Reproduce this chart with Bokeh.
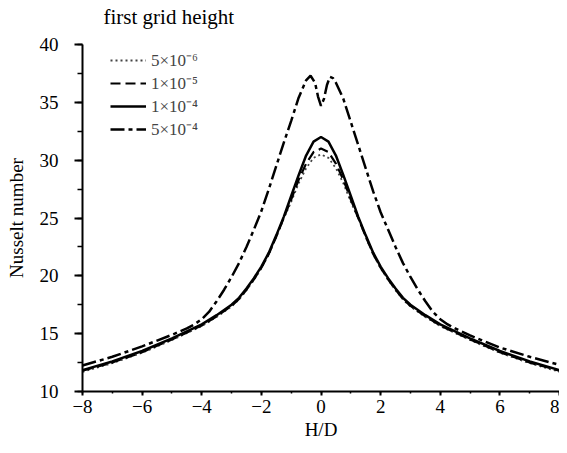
from bokeh.plotting import figure
from bokeh.models import Legend, LegendItem, Range1d, Title
from bokeh.embed import file_html
from bokeh.resources import INLINE

# H/D positions shared by the three near-identical grids
x_common = [-8, -7, -6, -5, -4, -3.5, -3, -2.75, -2.5, -2.25, -2, -1.75, -1.5, -1.25, -1,
            -0.75, -0.5, -0.25, 0, 0.25, 0.5, 0.75, 1, 1.25, 1.5, 1.75, 2, 2.25, 2.5,
            2.75, 3, 3.5, 4, 5, 6, 7, 8]

nu_5e6 = [11.7, 12.45, 13.35, 14.45, 15.65, 16.45, 17.35, 17.95, 18.75, 19.65, 20.65, 21.85, 23.35, 24.95, 26.4,
          28.0, 29.3, 30.2, 30.5, 30.2, 29.3, 28.0, 26.4, 24.95, 23.35, 21.85, 20.65, 19.65, 18.75,
          17.95, 17.35, 16.45, 15.65, 14.45, 13.35, 12.45, 11.7]
nu_1e5 = [11.8, 12.5, 13.4, 14.5, 15.7, 16.5, 17.4, 18.0, 18.8, 19.7, 20.7, 21.9, 23.4, 25.0, 26.6,
          28.3, 29.7, 30.7, 31.0, 30.7, 29.7, 28.3, 26.6, 25.0, 23.4, 21.9, 20.7, 19.7, 18.8,
          18.0, 17.4, 16.5, 15.7, 14.5, 13.4, 12.5, 11.8]
nu_1e4 = [11.85, 12.6, 13.5, 14.6, 15.8, 16.6, 17.5, 18.1, 18.9, 19.8, 20.8, 22.0, 23.5, 25.1, 26.9,
          28.7, 30.4, 31.6, 32.0, 31.6, 30.4, 28.7, 26.9, 25.1, 23.5, 22.0, 20.8, 19.8, 18.9,
          18.1, 17.5, 16.6, 15.8, 14.6, 13.5, 12.6, 11.85]

# H/D positions for the coarsest grid (double peak)
x_5e4 = [-8, -7, -6, -5, -4.5, -4.25, -4, -3.75, -3.5, -3.25, -3, -2.75, -2.5, -2.25, -2, -1.75,
         -1.5, -1.25, -1, -0.75, -0.5, -0.35, -0.2, -0.1, 0, 0.1, 0.2, 0.3, 0.4, 0.5, 0.75,
         1, 1.25, 1.5, 1.75, 2, 2.25, 2.5, 2.75, 3, 3.25, 3.5, 3.75, 4, 4.25, 4.5, 5, 6, 7, 8]
nu_5e4 = [12.25, 13.0, 13.9, 14.9, 15.45, 15.8, 16.25, 16.9, 17.8, 18.8, 19.9, 21.1, 22.5, 24.0, 25.6, 27.5,
          29.5, 31.5, 33.4, 35.4, 36.9, 37.3, 36.7, 35.5, 34.7, 35.3, 36.5, 37.2, 37.1, 36.7, 35.3,
          33.3, 31.3, 29.3, 27.3, 25.5, 24.0, 22.5, 21.1, 19.9, 18.8, 17.8, 16.9, 16.25, 15.8, 15.45, 14.85, 13.8, 13.0, 12.3]

labels = ["5×10⁻⁶", "1×10⁻⁵", "1×10⁻⁴", "5×10⁻⁴"]
legend_title = "first grid height"

FONT = "Liberation Serif"
FRAME_H = 347

p = figure(frame_width=477, frame_height=FRAME_H, output_backend="svg", toolbar_location=None,
           x_range=Range1d(-8, 8), y_range=Range1d(10, 40),
           min_border_left=82, min_border_right=0, min_border_top=44, min_border_bottom=54)
p.outline_line_color = None
p.xgrid.visible = False
p.ygrid.visible = False

# spacer nearest the frame, then the heading text above it
spacer = Title(text=" ", text_font_size="2px", standoff=12)
heading = Title(text=legend_title, align="left", offset=21, standoff=0,
                text_font=FONT, text_font_size="21px", text_font_style="normal", text_color="black")
p.add_layout(spacer, "above")
p.add_layout(heading, "above")

r1 = p.line(x_common, nu_5e6, line_color="#444444", line_width=1.8, line_dash="2 3")
r2 = p.line(x_common, nu_1e5, line_color="black", line_width=2.2, line_dash="10 5")
r3 = p.line(x_common, nu_1e4, line_color="black", line_width=2.5)
r4 = p.line(x_5e4, nu_5e4, line_color="black", line_width=2.5, line_dash="14 4 4 4")

legend = Legend(items=[LegendItem(label=labels[0], renderers=[r1]),
                       LegendItem(label=labels[1], renderers=[r2]),
                       LegendItem(label=labels[2], renderers=[r3]),
                       LegendItem(label=labels[3], renderers=[r4])],
                location=(28, FRAME_H - 8 - 88), margin=0, padding=0, spacing=0,
                glyph_width=36, glyph_height=22, label_height=22, label_standoff=5,
                label_text_font=FONT, label_text_font_size="17px",
                background_fill_alpha=0, border_line_color=None)
p.add_layout(legend, "center")

for ax in (p.xaxis[0], p.yaxis[0]):
    ax.axis_line_color = "black"
    ax.axis_line_width = 2
    ax.major_tick_line_color = "black"
    ax.major_tick_line_width = 2
    ax.minor_tick_line_color = "black"
    ax.minor_tick_line_width = 1.5
    ax.major_label_text_font = FONT
    ax.major_label_text_font_size = "19px"
    ax.major_label_text_color = "black"
    ax.axis_label_text_font = FONT
    ax.axis_label_text_font_size = "19px"
    ax.axis_label_text_font_style = "normal"
    ax.axis_label_text_color = "black"

p.xaxis.ticker.desired_num_ticks = 9
p.xaxis[0].ticker.num_minor_ticks = 2
p.yaxis[0].ticker.num_minor_ticks = 2
p.xaxis.major_tick_in = 0
p.xaxis.major_tick_out = 4
p.xaxis.minor_tick_in = 0
p.xaxis.minor_tick_out = 2
p.yaxis.major_tick_in = 0
p.yaxis.major_tick_out = 8
p.yaxis.minor_tick_in = 0
p.yaxis.minor_tick_out = 5
p.xaxis.major_label_standoff = 4
p.yaxis.major_label_standoff = 16
p.xaxis.axis_label = "H/D"
p.yaxis.axis_label = "Nusselt number"
p.xaxis.axis_label_standoff = 3
p.yaxis.axis_label_standoff = 10
p.xaxis.major_label_overrides = {-8: "−8", -6: "−6", -4: "−4", -2: "−2"}

open("out.html", "w").write(file_html(p, INLINE))
